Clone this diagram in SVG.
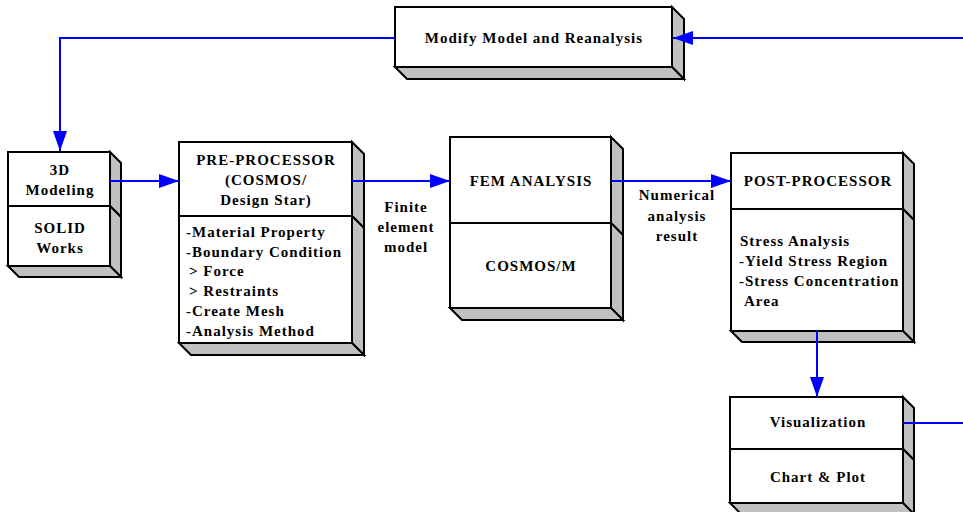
<svg xmlns="http://www.w3.org/2000/svg" width="963" height="512" viewBox="0 0 963 512">
<style>
.f{fill:#ffffff;stroke:#000;stroke-width:2}
.s{fill:#c0c0c0;stroke:#000;stroke-width:2;stroke-linejoin:miter}
text{font-family:"Liberation Serif","Times New Roman",serif;font-weight:bold;font-size:15px;letter-spacing:1px;fill:#000}
.c{text-anchor:middle}
.w{stroke:#0000ff;stroke-width:2;fill:none}
</style>
<defs>
<marker id="ah" markerUnits="userSpaceOnUse" markerWidth="22" markerHeight="14" refX="20" refY="7" orient="auto">
<path d="M0,0 L20,7 L0,14 Z" fill="#0000ff"/>
</marker>
</defs>
<rect width="963" height="512" fill="#ffffff"/>
<g id="modify">
<polygon class="s" points="672,7 684,19 684,79 672,67"/>
<polygon class="s" points="395,67 407,79 684,79 672,67"/>
<rect class="f" x="395" y="7" width="277" height="60"/>
<text class="c" x="534" y="43">Modify Model and Reanalysis</text>
</g>
<g id="modeling">
<polygon class="s" points="110,152 121,163 121,217 110,206"/>
<polygon class="s" points="110,206 121,217 121,277 110,266"/>
<polygon class="s" points="8,266 19,277 121,277 110,266"/>
<rect class="f" x="8" y="152" width="102" height="54"/>
<rect class="f" x="8" y="206" width="102" height="60"/>
<text class="c" x="60" y="175">3D</text>
<text class="c" x="60" y="195">Modeling</text>
<text class="c" x="60" y="233">SOLID</text>
<text class="c" x="60" y="253">Works</text>
</g>
<g id="preprocessor">
<polygon class="s" points="352,142 364,154 364,228 352,216"/>
<polygon class="s" points="352,216 364,228 364,355 352,343"/>
<polygon class="s" points="179,343 191,355 364,355 352,343"/>
<rect class="f" x="179" y="142" width="173" height="74"/>
<rect class="f" x="179" y="216" width="173" height="127"/>
<text class="c" x="266" y="165">PRE-PROCESSOR</text>
<text class="c" x="266" y="185">(COSMOS/</text>
<text class="c" x="266" y="205">Design Star)</text>
<text x="186" y="237">-Material  Property</text>
<text x="186" y="257">-Boundary Condition</text>
<text x="189" y="276">&gt; Force</text>
<text x="189" y="296">&gt; Restraints</text>
<text x="186" y="316">-Create Mesh</text>
<text x="186" y="336">-Analysis Method</text>
</g>
<g id="fem">
<polygon class="s" points="611,137 623,149 623,235 611,223"/>
<polygon class="s" points="611,223 623,235 623,320 611,308"/>
<polygon class="s" points="450,308 462,320 623,320 611,308"/>
<rect class="f" x="450" y="137" width="161" height="86"/>
<rect class="f" x="450" y="223" width="161" height="85"/>
<text class="c" x="531" y="186">FEM ANALYSIS</text>
<text class="c" x="531" y="271">COSMOS/M</text>
</g>
<g id="postprocessor">
<polygon class="s" points="903,153 914,164 914,220 903,209"/>
<polygon class="s" points="903,209 914,220 914,342 903,331"/>
<polygon class="s" points="731,331 742,342 914,342 903,331"/>
<rect class="f" x="731" y="153" width="172" height="56"/>
<rect class="f" x="731" y="209" width="172" height="122"/>
<text class="c" x="818" y="186">POST-PROCESSOR</text>
<text x="740" y="246">Stress Analysis</text>
<text x="739" y="266">-Yield Stress Region</text>
<text x="739" y="286">-Stress Concentration</text>
<text x="744" y="306">Area</text>
</g>
<g id="visualization">
<polygon class="s" points="903,397 914,408 914,460 903,449"/>
<polygon class="s" points="903,449 914,460 914,516 903,503"/>
<polygon class="s" points="730,503 741,514 914,514 903,503"/>
<rect class="f" x="730" y="397" width="173" height="52"/>
<rect class="f" x="730" y="449" width="173" height="54"/>
<text class="c" x="818" y="427">Visualization</text>
<text class="c" x="818" y="482">Chart &amp; Plot</text>
</g>
<g id="labels">
<text class="c" x="406" y="212">Finite</text>
<text class="c" x="406" y="232">element</text>
<text class="c" x="406" y="252">model</text>
<text class="c" x="677" y="200">Numerical</text>
<text class="c" x="677" y="221">analysis</text>
<text class="c" x="677" y="241">result</text>
</g>
<g id="connectors">
<polyline class="w" points="395,38 60,38 60,151" marker-end="url(#ah)"/>
<line class="w" x1="963" y1="38" x2="673" y2="38" marker-end="url(#ah)"/>
<line class="w" x1="110" y1="181" x2="179" y2="181" marker-end="url(#ah)"/>
<line class="w" x1="352" y1="181" x2="450" y2="181" marker-end="url(#ah)"/>
<line class="w" x1="611" y1="181" x2="731" y2="181" marker-end="url(#ah)"/>
<line class="w" x1="817" y1="331" x2="817" y2="397" marker-end="url(#ah)"/>
<line class="w" x1="903" y1="423" x2="963" y2="423"/>
</g>
</svg>
